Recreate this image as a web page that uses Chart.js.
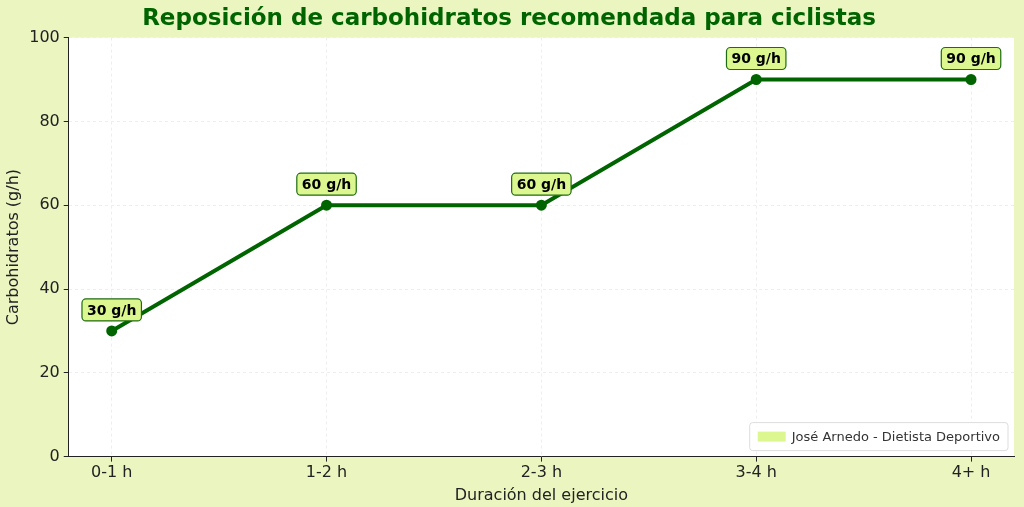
<!DOCTYPE html>
<html><head><meta charset="utf-8">
<script src="https://cdn.jsdelivr.net/npm/chart.js@4"></script>
<style>html,body{margin:0;padding:0;background:#eaf5c0;}#w{width:1024px;height:507px;}</style>
</head><body><div id="w"><canvas id="c"></canvas></div>
<script>
const categories=["0-1 h","1-2 h","2-3 h","3-4 h","4+ h"];
const values=[30,60,60,90,90];
const yTicks=[0,20,40,60,80,100];
const legendText="José Arnedo - Dietista Deportivo";
const bgPlugin={id:'bg',beforeDraw(ch){const {ctx,chartArea:a}=ch;ctx.save();ctx.fillStyle='#eaf5c0';ctx.fillRect(0,0,ch.width,ch.height);ctx.fillStyle='#fff';ctx.fillRect(a.left,a.top,a.right-a.left,a.bottom-a.top);ctx.restore();}};
function rr(ctx,x,y,w,h,r){ctx.beginPath();ctx.moveTo(x+r,y);ctx.arcTo(x+w,y,x+w,y+h,r);ctx.arcTo(x+w,y+h,x,y+h,r);ctx.arcTo(x,y+h,x,y,r);ctx.arcTo(x,y,x+w,y,r);ctx.closePath();}
const lblPlugin={id:'lbl',afterDatasetsDraw(ch){const {ctx,scales:{x,y},chartArea:a}=ch;ctx.save();ctx.font='bold 14px "DejaVu Sans"';ctx.textAlign='center';ctx.textBaseline='middle';
values.forEach((v,i)=>{const px=x.getPixelForValue(i),py=y.getPixelForValue(v)-21;const t=v+' g/h';const w=ctx.measureText(t).width+10;rr(ctx,px-w/2,py-11,w,22,4);ctx.fillStyle='#dcf78f';ctx.fill();ctx.strokeStyle='#1e6b10';ctx.lineWidth=1.2;ctx.stroke();ctx.fillStyle='#000';ctx.fillText(t,px,py+1);});
ctx.font='13px "DejaVu Sans"';const tw=ctx.measureText(legendText).width;const bw=tw+50,bh=28,bx=a.right-6-bw,by=a.bottom-6-bh;rr(ctx,bx,by,bw,bh,3);ctx.fillStyle='#fff';ctx.fill();ctx.strokeStyle='#ddd';ctx.lineWidth=1;ctx.stroke();ctx.fillStyle='#dcf78f';ctx.fillRect(bx+8,by+9,28,10);ctx.fillStyle='#333';ctx.textAlign='left';ctx.fillText(legendText,bx+42,by+bh/2+1);ctx.restore();}};
new Chart(document.getElementById('c'),{type:'line',
data:{datasets:[{data:values.map((v,i)=>({x:i,y:v})),borderColor:'#006400',backgroundColor:'#006400',borderWidth:4,pointRadius:3.5,pointBackgroundColor:'#006400',tension:0}]},
options:{responsive:true,maintainAspectRatio:false,animation:false,layout:{padding:{left:4,right:10,top:0,bottom:2}},
plugins:{legend:{display:false},tooltip:{enabled:false},title:{display:true,text:'Reposición de carbohidratos recomendada para ciclistas',color:'#006400',font:{family:'DejaVu Sans',size:23,weight:'bold'},padding:{top:5,bottom:5}}},
scales:{x:{type:'linear',min:-0.2,max:4.2,afterBuildTicks(s){s.ticks=categories.map((c,i)=>({value:i}));},ticks:{callback:(v)=>categories[v],color:'#222',font:{family:'DejaVu Sans',size:16},padding:2},grid:{color:'#eee',drawTicks:true,tickColor:'#222',tickLength:5},border:{color:'#222',dash:[3,3]},title:{display:true,text:'Duración del ejercicio',color:'#222',font:{family:'DejaVu Sans',size:16},padding:{top:1,bottom:0}}},
y:{min:0,max:100,afterBuildTicks(s){s.ticks=yTicks.map(v=>({value:v}));},ticks:{color:'#222',font:{family:'DejaVu Sans',size:16},padding:4},grid:{color:'#eee',tickColor:'#222',tickLength:5},border:{color:'#222',dash:[3,3]},title:{display:true,text:'Carbohidratos (g/h)',color:'#222',font:{family:'DejaVu Sans',size:16},padding:{top:0,bottom:2}}}}},
plugins:[bgPlugin,lblPlugin]});
</script></body></html>
